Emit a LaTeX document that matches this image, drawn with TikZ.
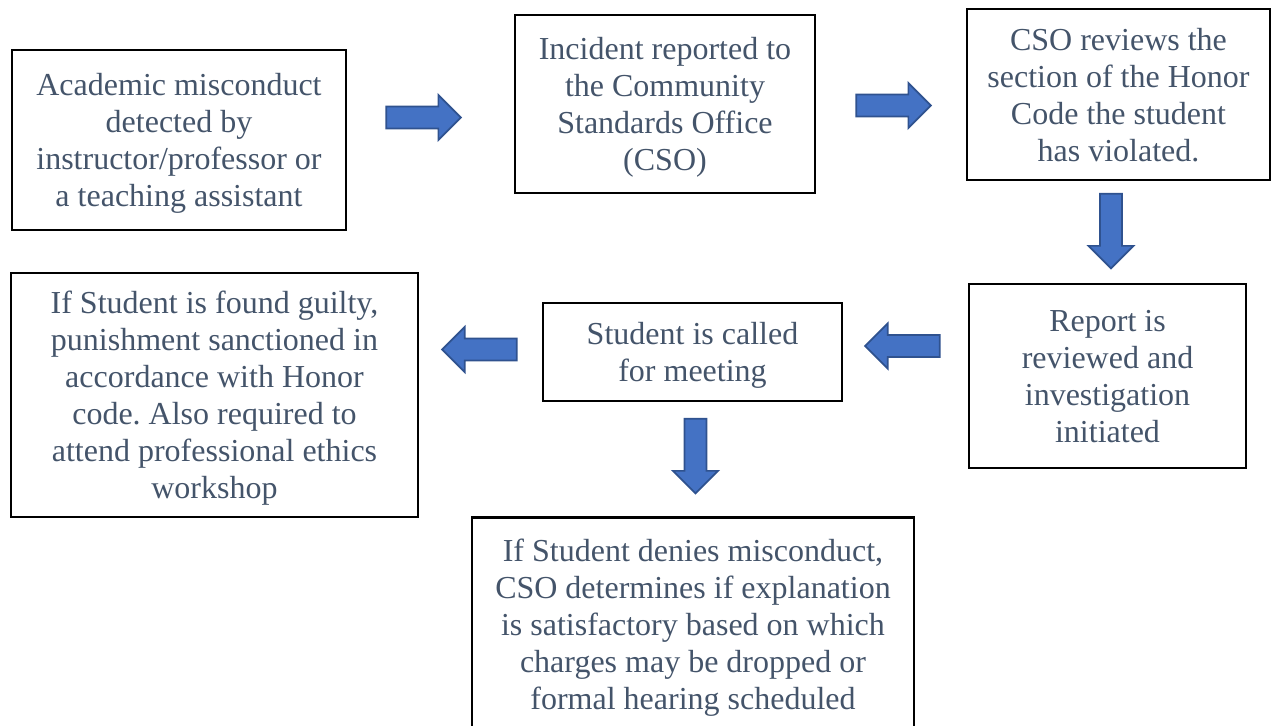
\documentclass[tikz,border=0pt]{standalone}
\usepackage{fontspec}
\setmainfont{Liberation Serif}
\frenchspacing
\usepackage{tikz}
\usetikzlibrary{shapes.arrows}
\definecolor{boxtext}{HTML}{44546A}
\definecolor{arrowfill}{HTML}{4472C4}
\definecolor{arrowline}{HTML}{2F528F}
\tikzset{step node/.style={rectangle, draw=black, line width=1.8pt, align=center, text=boxtext, inner sep=0pt,
    font=\fontsize{24pt}{27.75pt}\selectfont, text depth=-3.2pt},
  block arrow/.style={single arrow, draw=arrowline, fill=arrowfill, line width=1.3pt, inner xsep=0pt, inner ysep=7.6pt,
    minimum height=56pt, single arrow head extend=8.6pt, single arrow tip angle=90},
  down arrow/.style={block arrow, shape border rotate=270, inner xsep=7.6pt, inner ysep=0pt},}

\begin{document}
\begin{tikzpicture}[x=0.75pt, y=-0.75pt]
        \useasboundingbox (0,0) rectangle (1271,725);
        % Steps
        \node[step node, minimum width=250.5pt, minimum height=135pt] (1) at (179,140)
          {Academic misconduct\\detected by\\instructor/professor or\\a teaching assistant};
        \node[step node, minimum width=225pt, minimum height=133.5pt] (2) at (665,104)
          {Incident reported to\\the Community\\Standards Office\\(CSO)};
        \node[step node, minimum width=227.25pt, minimum height=128.25pt] (3) at (1118.5,94.5)
          {CSO reviews the\\section of the Honor\\Code the student\\has violated.};
        \node[step node, minimum width=207.75pt, minimum height=138pt] (4) at (1107.5,376)
          {Report is\\reviewed and\\investigation\\initiated};
        \node[step node, minimum width=224.25pt, minimum height=73.5pt] (5) at (692.5,352)
          {Student is called\\for meeting};
        \node[step node, minimum width=305.25pt, minimum height=183pt] (6) at (214.5,395)
          {If Student is found guilty,\\punishment sanctioned in\\accordance with Honor\\code. Also required to\\attend professional ethics\\workshop};
        \node[step node, minimum width=331.5pt, minimum height=160pt] (7) at (693,624)
          {If Student denies misconduct,\\CSO determines if explanation\\is satisfactory based on which\\charges may be dropped or\\formal hearing scheduled};
        % Arrows
        \node[block arrow] (a1) at (418,117.5) {};
        \node[block arrow] (a2) at (888,105.5) {};
        \node[down arrow] (a3) at (1111,225.5) {};
        \node[block arrow, shape border rotate=180] (a4) at (908,346) {};
        \node[block arrow, shape border rotate=180] (a5) at (485,349.5) {};
        \node[down arrow] (a6) at (695.5,450.5) {};
    \end{tikzpicture}
\end{document}
